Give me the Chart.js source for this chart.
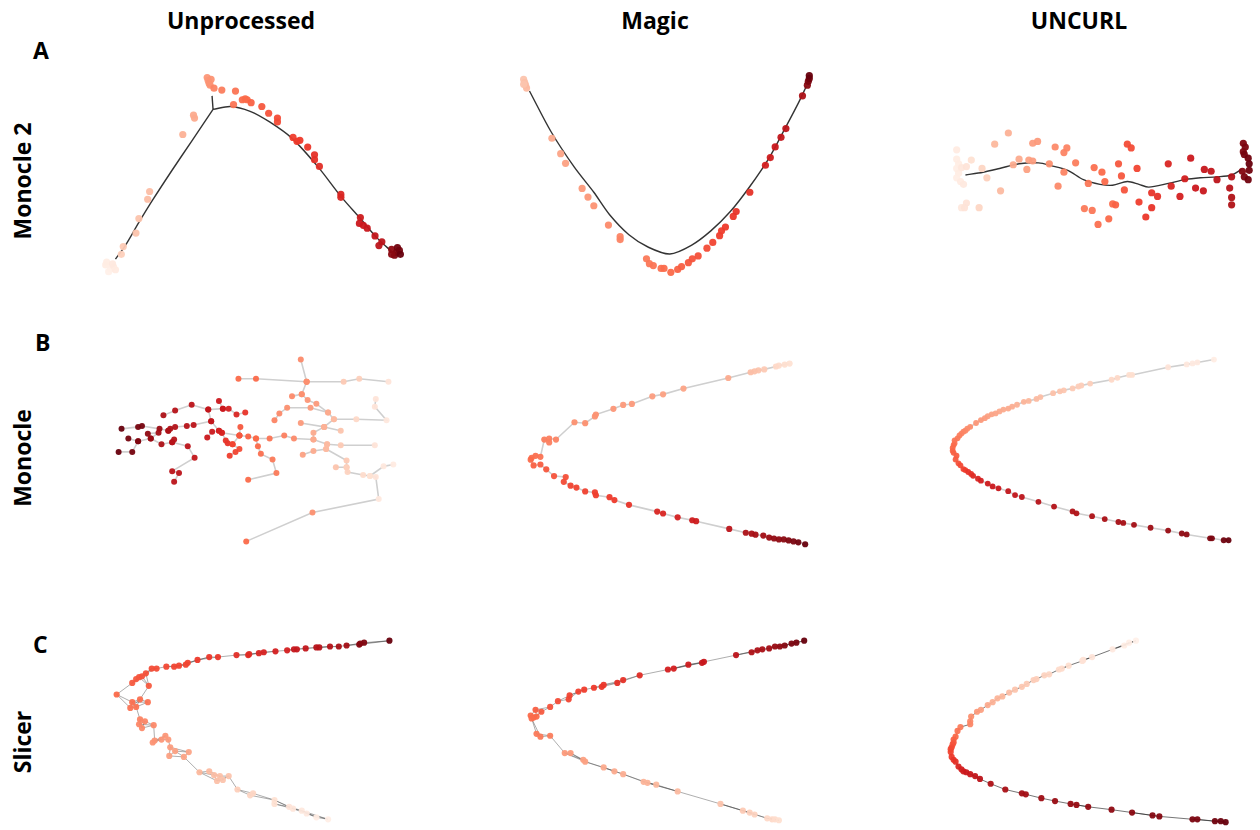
<!DOCTYPE html>
<html>
<head>
<meta charset="utf-8">
<script src="https://cdn.jsdelivr.net/npm/chart.js@4.4.1/dist/chart.umd.min.js"></script>
<style>
    body { margin: 0; background: #fff; width: 1260px; height: 830px; position: relative; overflow: hidden; }
    .lbl { position: absolute; font-family: 'Open Sans', sans-serif; font-weight: 700; font-size: 23px; line-height: 23px; color: #000; white-space: nowrap; }
    canvas { position: absolute; }
</style>
</head>
<body>
<script>
// titles
const columnTitles = ['Unprocessed', 'Magic', 'UNCURL'];
const rowLetters = ['A', 'B', 'C'];
const rowMethods = ['Monocle 2', 'Monocle', 'Slicer'];

// every cell is [x, y, pseudotime]; x/y in panel units (y grows downwards)
// --- A: Monocle 2 ---
const a1Extent = [330, 235];
const a1Cells = [
    [12, 208, .05], [17, 212, .04], [20, 210, .06], [15, 215, .03], [13, 205, .05], [19, 207, .07], [22, 213, .06],
    [28, 197, .18], [30, 189, .2], [43, 175, .22], [46, 160, .22], [55, 140, .24], [57, 132, .24], [91, 73, .28], [102, 53, .3], [103, 56, .3],
    [116, 14, .36], [117, 17, .36], [118, 20, .37], [120, 16, .37], [119, 22, .37], [123, 25, .42], [131, 27, .44], [145, 28, .47],
    [143, 42, .47], [152, 37, .5], [155, 36, .5], [157, 37, .5], [161, 40, .52], [172, 44, .55], [179, 51, .56], [188, 56, .58], [188, 60, .58],
    [204, 76, .62], [208, 80, .63], [211, 79, .63], [219, 86, .64], [226, 94, .66], [226, 99, .66], [231, 106, .67], [253, 135, .7], [253, 138, .7],
    [273, 159, .74], [272, 165, .75], [276, 167, .75], [280, 170, .76], [288, 178, .78], [295, 184, .8], [292, 188, .8],
    [305, 192, .92], [310, 195, .95], [313, 193, .97], [308, 198, .95], [314, 197, 1], [305, 197, .93], [311, 190, .98],
];
const a1LeftArm = [[22, 202], [32, 188], [46, 164], [60, 141], [80, 110], [100, 80], [112, 62], [122, 47]];
const a1RightArm = [[122, 47], [140, 44], [160, 49], [180, 60], [203, 77], [230, 107], [253, 137], [273, 160], [290, 180], [306, 195]];
const a1Stub = [[122, 47], [121, 33]];

const a2Extent = [320, 225];
const a2Cells = [
    [15, 16, .22], [16, 19, .23], [17, 22, .24], [18, 25, .25], [15, 21, .22],
    [44, 77, .3], [53, 93, .32], [58, 103, .33], [75, 129, .35], [81, 138, .36], [87, 147, .37], [102, 167, .4], [114, 179, .42], [114, 182, .42],
    [141, 202, .45], [144, 207, .46], [148, 209, .47], [156, 212, .48], [159, 212, .49], [166, 216, .5], [173, 213, .52], [177, 210, .53],
    [184, 206, .55], [188, 202, .56], [194, 199, .57], [203, 191, .58], [209, 185, .6], [216, 178, .62], [218, 173, .62], [222, 169, .63],
    [230, 158, .64], [233, 153, .65], [247, 133, .66], [263, 105, .72], [268, 97, .74], [273, 86, .76], [279, 76, .78], [284, 67, .8], [301, 33, .85],
    [306, 22, .93], [307, 18, .96], [308, 15, .98], [308, 12, 1],
];
const a2Curve = [[21, 28], [43, 70], [67, 107], [87, 133], [103, 156], [123, 177], [143, 190], [165, 197], [187, 188], [207, 173],
    [227, 153], [247, 127], [267, 97], [283, 67], [297, 40], [305, 23]];

const a3Extent = [320, 120];
const a3Cells = [
    [13, 33, .06], [13, 43, .05], [15, 48, .05], [13, 53, .04], [15, 58, .05], [13, 63, .04], [17, 67, .06], [20, 70, .07], [18, 52, .08],
    [23, 51, .1], [28, 44, .12], [23, 90, .1], [18, 95, .08], [21, 95, .1], [36, 95, .16], [39, 53, .16], [44, 63, .18], [58, 77, .25],
    [52, 27, .26], [66, 15, .28],
    [77, 43, .3], [71, 49, .3], [85, 54, .33], [87, 44, .33], [91, 45, .34], [91, 26, .34], [96, 24, .35], [108, 48, .38], [114, 30, .4],
    [123, 36, .42], [126, 31, .42], [123, 57, .42], [117, 72, .4], [135, 47, .44], [144, 96, .45], [152, 98, .46], [148, 69, .46], [154, 52, .48],
    [162, 57, .5], [165, 67, .5], [158, 113, .48], [169, 107, .5], [173, 91, .5], [176, 92, .52], [179, 48, .55], [182, 61, .55], [185, 76, .56],
    [188, 27, .58], [192, 31, .58], [198, 53, .6], [200, 89, .62], [207, 105, .64], [213, 95, .65], [213, 79, .65], [219, 83, .66], [230, 48, .7],
    [233, 72, .7], [242, 83, .72], [247, 64, .73], [253, 42, .75], [258, 74, .75], [266, 77, .76], [267, 54, .77], [274, 56, .78], [280, 65, .8],
    [293, 74, .82], [295, 62, .83], [295, 84, .84], [295, 92, .84],
    [307, 26, .95], [309, 30, .96], [307, 35, .95], [308, 38, .97], [312, 42, .98], [313, 48, 1], [313, 55, .98], [306, 56, .94], [308, 62, .96], [312, 65, .98],
];
const a3Curve = [[22, 60], [40, 57], [57, 53], [77, 48], [97, 47], [110, 50], [127, 55], [143, 65], [160, 70], [173, 71], [188, 67], [200, 70],
    [210, 73], [230, 69], [247, 65], [263, 63], [280, 62], [295, 60], [305, 54]];

// --- B: Monocle (tree branches) ---
const b1Extent = [310, 210];
const b1Branches = [
    [[138, 31, .5], [156, 31, .5], [208, 34, .38], [246, 34, .2], [262, 31, .18], [292, 34, .1]],
    [[202, 11, .4], [208, 34, .38]],
    [[208, 34, .38], [203, 47, .38], [193, 49, .4]],
    [[203, 47, .38], [209, 53, .36], [218, 57, .35], [230, 66, .3], [236, 73, .25], [259, 73, .15], [290, 74, .08], [278, 60, .1], [279, 52, .1]],
    [[175, 74, .42], [180, 67, .4], [188, 61, .38], [212, 61, .35], [230, 66, .3]],
    [[236, 73, .25], [226, 81, .28], [202, 77, .35]],
    [[226, 81, .28], [243, 85, .22]],
    [[226, 81, .28], [215, 87, .3], [215, 94, .3]],
    [[140, 81, .55], [139, 90, .55], [148, 91, .52], [156, 93, .5], [170, 93, .47], [185, 90, .43], [195, 93, .4], [215, 94, .3], [229, 99, .25], [243, 100, .2], [278, 100, .1]],
    [[229, 99, .25], [228, 104, .25], [215, 106, .3], [204, 110, .33]],
    [[228, 104, .25], [249, 116, .2], [249, 123, .18], [250, 128, .17], [266, 131, .14], [273, 132, .12], [279, 133, .1], [282, 156, .08], [214, 170, .38], [146, 200, .5]],
    [[238, 123, .22], [249, 123, .18]],
    [[273, 132, .12], [287, 122, .08], [297, 120, .06]],
    [[156, 93, .5], [158, 101, .5], [161, 109, .48], [173, 115, .45], [177, 129, .45], [148, 136, .5]],
    [[139, 90, .55], [132, 99, .6], [139, 104, .58], [135, 107, .6], [129, 111, .62]],
    [[121, 87, .7], [125, 95, .65], [127, 98, .65], [132, 99, .6]],
    [[118, 54, .75], [122, 62, .75], [128, 62, .72], [136, 68, .7], [145, 66, .65]],
    [[61, 69, .85], [73, 64, .82], [90, 58, .8], [107, 63, .78], [122, 62, .75]],
    [[107, 63, .78], [110, 75, .78], [92, 79, .8], [85, 80, .82], [73, 81, .83], [68, 83, .85], [66, 85, .85]],
    [[18, 83, 1], [35, 81, .97], [39, 80, .97], [57, 83, .9], [66, 85, .85]],
    [[110, 75, .78], [118, 85, .72], [121, 87, .7], [139, 90, .55]],
    [[106, 92, .75], [111, 86, .75], [118, 85, .72]],
    [[15, 107, 1], [29, 107, .97], [35, 96, .95], [48, 93, .9], [59, 99, .85], [70, 97, .82], [86, 101, .8], [93, 113, .78], [70, 127, .8], [77, 129, .8], [72, 138, .8]],
    [[25, 93, .97], [35, 96, .95]],
    [[45, 88, .92], [56, 87, .88], [48, 93, .9]],
    [[72, 94, .82], [70, 97, .82]],
];

const b2Extent = [300, 205];
const b2Cells = [
    [278, 10, .12], [273, 11, .13], [267, 12, .14], [264, 13, .15], [252, 16, .2], [246, 17, .22], [242, 18, .23], [238, 19, .24], [215, 25, .3],
    [169, 36, .32], [148, 42, .33], [137, 44, .34], [116, 52, .35], [107, 53, .35], [97, 57, .36], [79, 63, .37], [78, 65, .37], [68, 72, .38],
    [57, 71, .38], [38, 89, .42], [31, 88, .43], [31, 92, .43], [26, 89, .44], [22, 107, .47], [17, 106, .48], [13, 108, .48], [12, 110, .5],
    [15, 116, .52], [22, 115, .53], [28, 120, .55], [36, 127, .56], [48, 128, .57], [46, 133, .58], [53, 137, .6], [59, 139, .6], [68, 143, .61],
    [78, 144, .62], [79, 147, .62], [93, 149, .63], [98, 152, .63], [113, 157, .65], [142, 164, .7], [148, 166, .7], [163, 170, .72],
    [178, 173, .74], [182, 174, .74], [216, 182, .8], [233, 186, .85], [239, 187, .86], [243, 188, .87], [251, 189, .88], [257, 191, .9],
    [262, 192, .91], [267, 193, .92], [272, 193, .93], [277, 194, .95], [282, 195, .96], [287, 196, .98], [294, 198, 1],
];

const b3Extent = [320, 205];
const b3Cells = [
    [282, 11, .05], [265, 14, .07], [260, 15, .07], [254, 16, .08], [235, 19, .1], [198, 27, .13], [195, 27, .13], [183, 30, .15], [177, 32, .15],
    [155, 36, .18], [146, 38, .19], [143, 39, .19], [137, 41, .2], [128, 43, .21], [124, 44, .22], [117, 46, .23], [104, 50, .24], [100, 52, .25],
    [92, 54, .26], [87, 55, .27], [80, 58, .28], [75, 60, .29], [71, 62, .3], [66, 63, .3], [62, 65, .3], [58, 67, .31], [54, 68, .32], [50, 70, .33],
    [47, 72, .34], [43, 74, .35], [38, 77, .36], [32, 81, .38], [29, 83, .39], [27, 85, .4], [25, 86, .41], [23, 88, .42], [21, 90, .43],
    [19, 93, .45], [16, 95, .46], [16, 98, .47], [15, 100, .49], [14, 103, .5], [14, 106, .51], [15, 108, .52], [18, 111, .53], [17, 115, .54],
    [20, 119, .56], [22, 121, .58], [25, 125, .6], [27, 126, .62], [30, 128, .65], [33, 130, .66], [35, 132, .68], [40, 135, .7], [43, 137, .72],
    [50, 140, .74], [55, 143, .75], [61, 145, .76], [71, 148, .78], [78, 152, .78], [85, 154, .8], [102, 159, .82], [118, 164, .83], [137, 169, .84],
    [141, 171, .84], [157, 174, .85], [170, 177, .86], [184, 180, .87], [189, 181, .87], [200, 183, .88], [217, 186, .89], [235, 189, .9],
    [249, 192, .92], [254, 193, .92], [278, 197, .95], [280, 197, .96], [292, 199, .98], [297, 199, 1],
];

// --- C: Slicer (edges come from a k-nearest-neighbour graph) ---
const c1Extent = [310, 200];
const c1Cells = [
    [293, 7, 1], [267, 9, .95], [263, 10, .94], [262, 11, .94], [249, 12, .88], [241, 13, .87], [232, 13, .83], [221, 14, .82], [218, 14, .82],
    [207, 15, .78], [198, 16, .77], [195, 16, .77], [188, 17, .72], [176, 18, .72], [164, 19, .71], [159, 20, .7], [149, 21, .68], [148, 22, .68],
    [136, 22, .67], [117, 24, .64], [108, 24, .64], [96, 27, .63], [86, 30, .6], [84, 32, .6], [77, 33, .6], [72, 34, .6], [64, 34, .59],
    [54, 36, .58], [49, 36, .58], [43, 41, .57], [39, 44, .56], [36, 45, .56], [33, 47, .55], [29, 51, .54], [46, 54, .54],
    [13, 63, .5], [29, 71, .48], [37, 68, .48], [45, 71, .47], [33, 76, .47], [27, 77, .47],
    [37, 89, .42], [42, 91, .41], [36, 94, .41], [39, 98, .4], [51, 95, .4], [52, 111, .37], [50, 113, .37], [59, 110, .36], [63, 106, .36],
    [66, 110, .35], [68, 118, .34], [73, 122, .33], [67, 127, .33], [82, 128, .32], [87, 123, .32], [98, 144, .26], [108, 143, .25],
    [113, 147, .24], [116, 153, .23], [119, 148, .23], [122, 152, .22], [128, 148, .22], [137, 162, .18], [150, 168, .16], [153, 166, .16],
    [175, 173, .12], [175, 177, .12], [190, 180, .1], [194, 182, .09], [203, 184, .08], [208, 187, .07], [218, 191, .05], [230, 193, .04],
];

const c2Extent = [300, 200];
const c2Cells = [
    [293, 7, 1], [285, 9, .97], [280, 10, .96], [273, 12, .94], [268, 13, .92], [263, 13, .9], [257, 15, .88], [250, 16, .86], [245, 17, .85],
    [239, 19, .84], [223, 22, .8], [190, 29, .76], [188, 30, .76], [174, 32, .74], [159, 36, .72], [153, 37, .72], [124, 43, .68], [107, 48, .66],
    [101, 51, .66], [87, 53, .64], [85, 55, .64], [77, 56, .63], [67, 58, .62], [61, 60, .61], [52, 64, .6], [51, 68, .6], [40, 70, .58],
    [32, 76, .56], [23, 81, .54], [17, 79, .53], [12, 85, .5], [15, 87, .5], [18, 86, .5], [13, 88, .49], [18, 104, .45], [22, 107, .45],
    [32, 106, .44], [47, 124, .35], [53, 124, .35], [66, 131, .33], [68, 133, .33], [87, 139, .3], [98, 143, .3], [107, 146, .29], [128, 154, .27],
    [132, 155, .27], [141, 157, .26], [163, 164, .25], [207, 177, .22], [230, 184, .2], [237, 186, .18], [242, 188, .17], [255, 192, .15],
    [260, 193, .15], [263, 193, .14], [267, 194, .13],
];

const c3Extent = [320, 200];
const c3Cells = [
    [202, 7, .03], [195, 9, .04], [190, 12, .05], [178, 16, .07], [157, 24, .1], [148, 27, .11], [147, 28, .11], [133, 33, .13], [126, 36, .14],
    [123, 37, .14], [113, 42, .16], [108, 43, .17], [100, 47, .18], [97, 48, .19], [90, 52, .2], [85, 55, .21], [78, 58, .22], [72, 61, .24],
    [65, 65, .26], [60, 67, .27], [55, 71, .28], [50, 74, .3], [43, 79, .33], [39, 81, .35], [33, 86, .38], [32, 91, .4], [32, 94, .41],
    [22, 97, .44], [19, 101, .47], [17, 107, .5], [15, 110, .52], [15, 113, .54], [14, 115, .56], [13, 118, .58], [12, 120, .59], [12, 123, .6],
    [13, 128, .63], [15, 131, .65], [17, 133, .66], [20, 138, .7], [23, 141, .72], [25, 143, .73], [28, 144, .75], [32, 146, .76], [37, 148, .78],
    [42, 151, .8], [53, 156, .84], [68, 162, .86], [85, 166, .88], [89, 167, .88], [105, 171, .89], [119, 174, .9], [135, 177, .9], [141, 178, .9],
    [153, 180, .91], [177, 183, .92], [198, 186, .93], [219, 189, .94], [226, 190, .94], [260, 193, .96], [265, 193, .96], [283, 195, .98],
    [289, 195, .99], [294, 196, 1],
];

// matplotlib "Reds"
const redsStops = ['#fff5f0', '#fee0d2', '#fcbba1', '#fc9272', '#fb6a4a', '#ef3b2c', '#cb181d', '#a50f15', '#67000d'];

function reds(t, alpha) {
    const s = Math.min(Math.max(t, 0), 1) * (redsStops.length - 1);
    const i = Math.min(Math.floor(s), redsStops.length - 2);
    const f = s - i;
    const a = parseInt(redsStops[i].slice(1), 16);
    const b = parseInt(redsStops[i + 1].slice(1), 16);
    const ch = (v, sh) => (v >> sh) & 255;
    const mix = sh => Math.round(ch(a, sh) + (ch(b, sh) - ch(a, sh)) * f);
    return `rgba(${mix(16)}, ${mix(8)}, ${mix(0)}, ${alpha})`;
}

const dist2 = (a, b) => (a[0] - b[0]) ** 2 + (a[1] - b[1]) ** 2;

// k nearest neighbours plus a minimum spanning tree so the graph stays connected
function neighbourGraph(cells, k) {
    const seen = new Set();
    const edges = [];
    const add = (i, j) => {
        const key = i < j ? i + '-' + j : j + '-' + i;
        if (seen.has(key)) return;
        seen.add(key);
        edges.push([cells[i], cells[j]]);
    };
    cells.forEach((a, i) => {
        cells.map((b, j) => [dist2(a, b), j])
            .filter(p => p[1] !== i)
            .sort((p, q) => p[0] - q[0])
            .slice(0, k)
            .forEach(([, j]) => add(i, j));
    });
    const inTree = [0];
    const rest = new Set(cells.map((_, i) => i).filter(i => i > 0));
    while (rest.size) {
        let best = null;
        inTree.forEach(i => rest.forEach(j => {
            const d = dist2(cells[i], cells[j]);
            if (!best || d < best[0]) best = [d, i, j];
        }));
        add(best[1], best[2]);
        inTree.push(best[2]);
        rest.delete(best[2]);
    }
    return edges;
}

function label(text, css) {
    const el = document.createElement('div');
    el.className = 'lbl';
    el.textContent = text;
    Object.assign(el.style, css);
    document.body.appendChild(el);
}

function panel(left, top, extent, cells, paths, look) {
    const canvas = document.createElement('canvas');
    canvas.width = extent[0];
    canvas.height = extent[1];
    canvas.style.left = left + 'px';
    canvas.style.top = top + 'px';
    document.body.appendChild(canvas);

    // paths are separated by a null point so they don't join up
    const pathData = [];
    paths.forEach(p => {
        p.forEach(v => pathData.push({ x: v[0], y: v[1] }));
        pathData.push({ x: p[p.length - 1][0], y: null });
    });

    new Chart(canvas, {
        type: 'scatter',
        data: {
            datasets: [
                {
                    data: cells.map(c => ({ x: c[0], y: c[1] })),
                    pointBackgroundColor: cells.map(c => reds(c[2], 0.95)),
                    pointBorderWidth: 0,
                    pointRadius: look.r,
                    clip: false,
                    order: 0,
                },
                {
                    type: 'line',
                    data: pathData,
                    borderColor: look.line,
                    borderWidth: look.lw,
                    pointRadius: 0,
                    tension: look.tension,
                    spanGaps: false,
                    fill: false,
                    clip: false,
                    order: 1,
                },
            ],
        },
        options: {
            responsive: false,
            animation: false,
            events: [],
            layout: { padding: 0 },
            plugins: { legend: { display: false }, tooltip: { enabled: false } },
            scales: {
                x: { type: 'linear', display: false, min: 0, max: extent[0] },
                y: { type: 'linear', display: false, min: 0, max: extent[1], reverse: true },
            },
        },
    });
}

const monocle2Look = { r: 3.6, line: 'rgba(40,40,40,0.95)', lw: 1.4, tension: 0.3 };
const monocleLook = { r: 3.1, line: '#cfcfcf', lw: 1.6, tension: 0 };
const slicerLook = { r: 3.1, line: 'rgba(70,70,70,0.55)', lw: 0.8, tension: 0 };
const xy = p => p.map(v => [v[0], v[1]]);

panel(90, 60, a1Extent, a1Cells, [a1LeftArm, a1RightArm, a1Stub], monocle2Look);
panel(505, 60, a2Extent, a2Cells, [a2Curve], monocle2Look);
panel(940, 115, a3Extent, a3Cells, [a3Curve], monocle2Look);

panel(100, 345, b1Extent, b1Branches.flat(), b1Branches.map(xy), { ...monocleLook, r: 3.0 });
panel(515, 350, b2Extent, b2Cells, [xy(b2Cells)], monocleLook);
panel(935, 345, b3Extent, b3Cells, [xy(b3Cells)], { ...monocleLook, r: 2.9 });

panel(100, 630, c1Extent, c1Cells, neighbourGraph(c1Cells, 3), slicerLook);
panel(515, 630, c2Extent, c2Cells, neighbourGraph(c2Cells, 3), slicerLook);
panel(935, 630, c3Extent, c3Cells, neighbourGraph(c3Cells, 2), { ...slicerLook, line: 'rgba(40,40,40,0.8)' });

// text
const titleCenters = [241, 655, 1079];
columnTitles.forEach((t, i) => label(t, { left: titleCenters[i] + 'px', top: '9px', transform: 'translateX(-50%)' }));

const letterPos = [[33, 39], [35, 331], [33, 633]];
rowLetters.forEach((t, i) => label(t, { left: letterPos[i][0] + 'px', top: letterPos[i][1] + 'px' }));

const methodCenters = [181, 458, 742];
rowMethods.forEach((t, i) => label(t, {
    left: '22px', top: methodCenters[i] + 'px', transform: 'translate(-50%, -50%) rotate(-90deg)',
}));
</script>
</body>
</html>
